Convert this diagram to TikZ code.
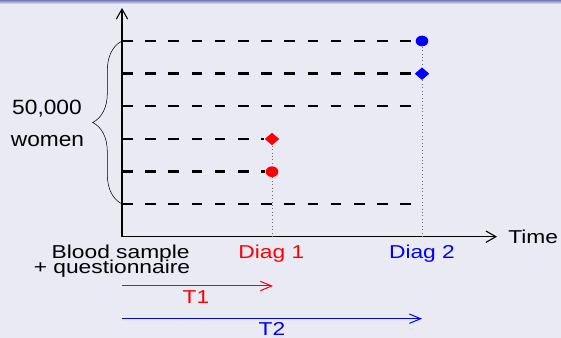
\documentclass[tikz,border=0pt]{standalone}
\usepackage{fontspec}
\setmainfont{Liberation Sans}
\usetikzlibrary{arrows.meta,calc,positioning,shapes.geometric,decorations.pathreplacing}
\definecolor{framebg}{RGB}{234,234,244}
\definecolor{framebar}{RGB}{120,120,185}
\definecolor{diagred}{RGB}{255,0,0}
\definecolor{diagblue}{RGB}{0,0,255}
\definecolor{dotgray}{RGB}{110,110,110}
\tikzset{
    axisline/.style={line width=0.8pt,draw=black,-{Straight Barb[length=7.5pt,width=8.5pt]}},
    rowline/.style={line width=1.8pt,draw=black,dash pattern=on 8pt off 9.4pt},
    dropline/.style={line width=0.6pt,draw=dotgray,dotted},
    spanarrow/.style={line width=0.75pt,-{Straight Barb[length=8.5pt,width=7pt]}},
    dotmark/.style={ellipse,inner sep=0pt,minimum width=9.5pt,minimum height=8pt},
    diamark/.style={diamond,inner sep=0pt,minimum width=11pt,minimum height=9.5pt},
    lbl/.style={inner sep=0pt,font=\fontsize{14}{17}\selectfont,xscale=1.22},
    biglbl/.style={inner sep=0pt,font=\fontsize{15.5}{19}\selectfont,xscale=1.1}
}

\begin{document}
\begin{tikzpicture}[x=0.75pt,y=-0.75pt]
  \useasboundingbox (0,0) rectangle (561,338);

  % fond du cadre
  \fill[framebg] (0,0) rectangle (561,338);
  \shade[top color=framebar,bottom color=framebg] (0,0) rectangle (561,4);

  % axes
  \coordinate (O) at (122,236.7);
  \coordinate (ytop) at (122,8);
  \coordinate (xend) at (497,236.7);
  \draw[axisline] (O) -- (ytop);
  \draw[axisline] (O) -- (xend);

  % diagnostics
  \node[dotmark,fill=diagblue] (b1) at (422,41) {};
  \node[diamark,fill=diagblue] (b2) at (422,73.7) {};
  \node[diamark,fill=diagred]  (a4) at (272,139) {};
  \node[dotmark,fill=diagred]  (a5) at (272,171.7) {};
  \coordinate (e3) at (413,106.3);
  \coordinate (e6) at (413,204);

  % suivi des femmes
  \foreach \r/\y in {1/41,2/73.7,3/106.3,4/139,5/171.7,6/204}{
    \coordinate (s\r) at (122,\y);
  }
  \draw[rowline] (s1) -- (b1);
  \draw[rowline] (s2) -- (b2);
  \draw[rowline] (s3) -- (e3);
  \draw[rowline] (s4) -- (a4);
  \draw[rowline] (s5) -- (a5);
  \draw[rowline] (s6) -- (e6);

  % pointilles vers l'axe
  \draw[dropline] (a4) -- (a5) -- (a5 |- O);
  \draw[dropline] (b1) -- (b2) -- (b2 |- O);

  % accolade
  \draw[decorate,decoration={brace,amplitude=22pt,aspect=0.5}] (s6) -- (s1);
  \node[biglbl,anchor=base] (lblfifty) at (47,115) {50,000};
  \node[biglbl,anchor=base] (lblwomen) at (47.5,146.7) {women};

  % textes sous l'axe
  \node[lbl,anchor=base east] (lblblood) at (190,258.5) {Blood sample};
  \node[lbl,anchor=base east] (lblquest) at (190.5,274) {+ questionnaire};
  \node[lbl,anchor=base,text=diagred]  (lbldiagone) at (271.3,258.7) {Diag 1};
  \node[lbl,anchor=base,text=diagblue] (lbldiagtwo) at (422,258.7) {Diag 2};
  \node[lbl,anchor=base west] (lbltime) at (508,244) {Time};

  % delais
  \coordinate (t1s) at (122,286);
  \coordinate (t1e) at (273,286);
  \coordinate (t2s) at (122,318.7);
  \coordinate (t2e) at (422,318.7);
  \draw[spanarrow,diagred]  (t1s) -- (t1e);
  \draw[spanarrow,diagblue] (t2s) -- (t2e);
  \node[lbl,anchor=base,text=diagred]  (lbltone) at (196,303.3) {T1};
  \node[lbl,anchor=base,text=diagblue] (lblttwo) at (272,335.8) {T2};
\end{tikzpicture}
\end{document}
